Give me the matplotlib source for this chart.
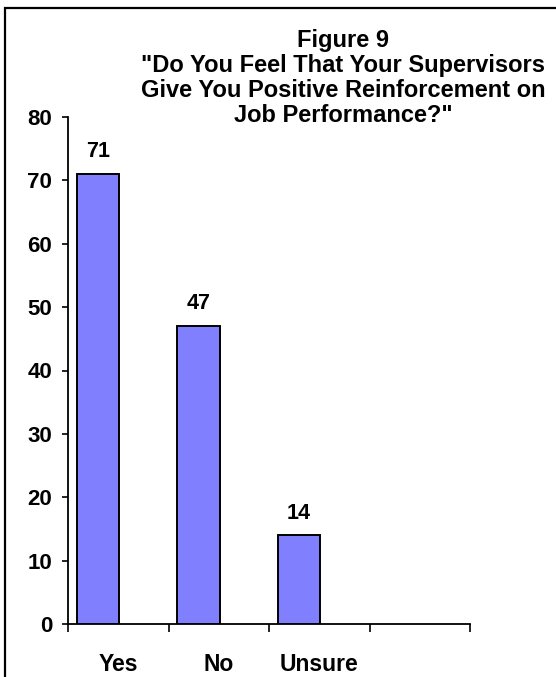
import matplotlib
matplotlib.use("Agg")
import matplotlib.pyplot as plt
from matplotlib.patches import Rectangle

categories = ["Yes", "No", "Unsure", ""]
counts = [71, 47, 14]
yticks = [0, 10, 20, 30, 40, 50, 60, 70, 80]
title_lines = ["Figure 9",
               "\"Do You Feel That Your Supervisors",
               "Give You Positive Reinforcement on",
               "Job Performance?\""]

plt.rcParams['font.family'] = ['Liberation Sans', 'DejaVu Sans']
plt.rcParams['font.weight'] = 'bold'

W, H = 556, 677
fig = plt.figure(figsize=(W / 100, H / 100), dpi=100)

# outer frame (runs off the right and bottom edges)
fig.patches.append(Rectangle((5 / W, -0.1), 1.2, 1.1 - 8 / H, transform=fig.transFigure,
                             fill=False, edgecolor='black', linewidth=1.6))

ax = fig.add_axes([68 / W, 1 - 624 / H, (470 - 68) / W, (624 - 117) / H])

# bars sit left of centre in each category slot
offset, width = 0.085, 0.425
xs = [i + offset for i in range(len(counts))]
ax.bar(xs, counts, width=width, align='edge', color='#8080FF',
       edgecolor='black', linewidth=1.4, zorder=3)

for x, v in zip(xs, counts):
    ax.annotate(str(v), (x + width / 2, v), xytext=(0, 12), textcoords='offset points',
                ha='center', va='baseline', fontsize=15.5, fontweight='bold')

ax.set_xlim(0, len(categories))
ax.set_ylim(0, 80)
ax.set_yticks(yticks)
ax.set_yticklabels([str(t) for t in yticks], fontsize=16, fontweight='bold')
ax.tick_params(axis='y', direction='out', length=4.5, width=1.2, pad=7)

ax.set_xticks([i + 0.5 for i in range(len(categories))])
ax.set_xticklabels(categories, fontsize=16.5, fontweight='bold')
ax.tick_params(axis='x', which='major', length=0, pad=21)
ax.set_xticks(range(len(categories) + 1), minor=True)
ax.tick_params(axis='x', which='minor', direction='out', length=6, width=1.2)

for s in ['top', 'right']:
    ax.spines[s].set_visible(False)
for s in ['left', 'bottom']:
    ax.spines[s].set_linewidth(1.3)

for k, line in enumerate(title_lines):
    fig.text(343 / W, 1 - (40 + 25.3 * k) / H, line, ha='center', va='center',
             fontsize=17, fontweight='bold')

fig.savefig("out.png", dpi=100)
